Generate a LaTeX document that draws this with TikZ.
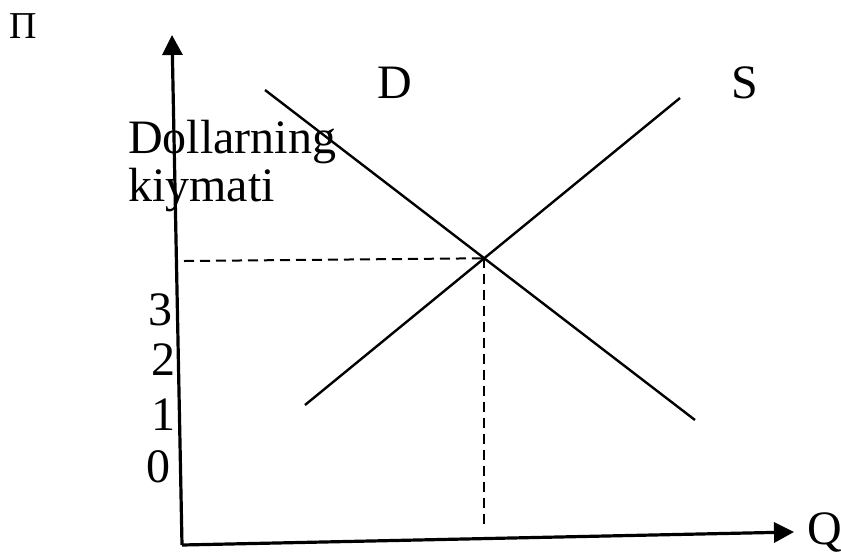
\documentclass[tikz,border=0pt]{standalone}
\usepackage{fontspec}
\setmainfont{Liberation Serif}
\usetikzlibrary{arrows.meta,calc}
\begin{document}
\begin{tikzpicture}[x=1pt,y=-1pt,
  axis/.style={line width=3.2pt,-{Triangle[length=20pt,width=20pt]}},
  curve/.style={line width=2.4pt},
  guide/.style={line width=2pt,dash pattern=on 10pt off 6pt},
  lbl/.style={inner sep=0pt,font=\fontsize{48}{52}\selectfont},
  tick/.style={inner sep=0pt,anchor=base,font=\fontsize{48}{52}\selectfont}]
\useasboundingbox (0,0) rectangle (841,558);
% axes
\coordinate (O) at (182,545);
\coordinate (Ytop) at (172,35);
\coordinate (Xend) at (794,532);
\draw[axis] (O) -- (Ytop);
\draw[axis] (O) -- (Xend);
% lines
\coordinate (D1) at (265,90);
\coordinate (D2) at (695,420);
\coordinate (S1) at (305,405);
\coordinate (S2) at (680,98);
\draw[curve] (D1) -- (D2);
\draw[curve] (S1) -- (S2);
\coordinate (E) at (intersection of D1--D2 and S1--S2);
\coordinate (Ey) at (184,261);
\coordinate (Ex) at (E |- 0,530);
\draw[guide] (Ey) -- (E);
\draw[guide] (E) -- (Ex);
% labels
\node[inner sep=0pt,anchor=base,font=\fontsize{38}{42}\selectfont] (P) at (23,38) {Π};
\node[lbl,anchor=base west] (Q) at (807,544) {Q};
\node[lbl] (Dl) at (395,83) {D};
\node[lbl] (Sl) at (745,83) {S};
\node[lbl,anchor=base west] (t1) at (128,153) {Dollarning};
\node[lbl,anchor=base west] (t2) at (128,201) {kiymati};
\node[tick] (n3) at (160,325) {3};
\node[tick] (n2) at (163,375) {2};
\node[tick] (n1) at (163,430) {1};
\node[tick] (n0) at (158,482) {0};
\end{tikzpicture}
\end{document}
